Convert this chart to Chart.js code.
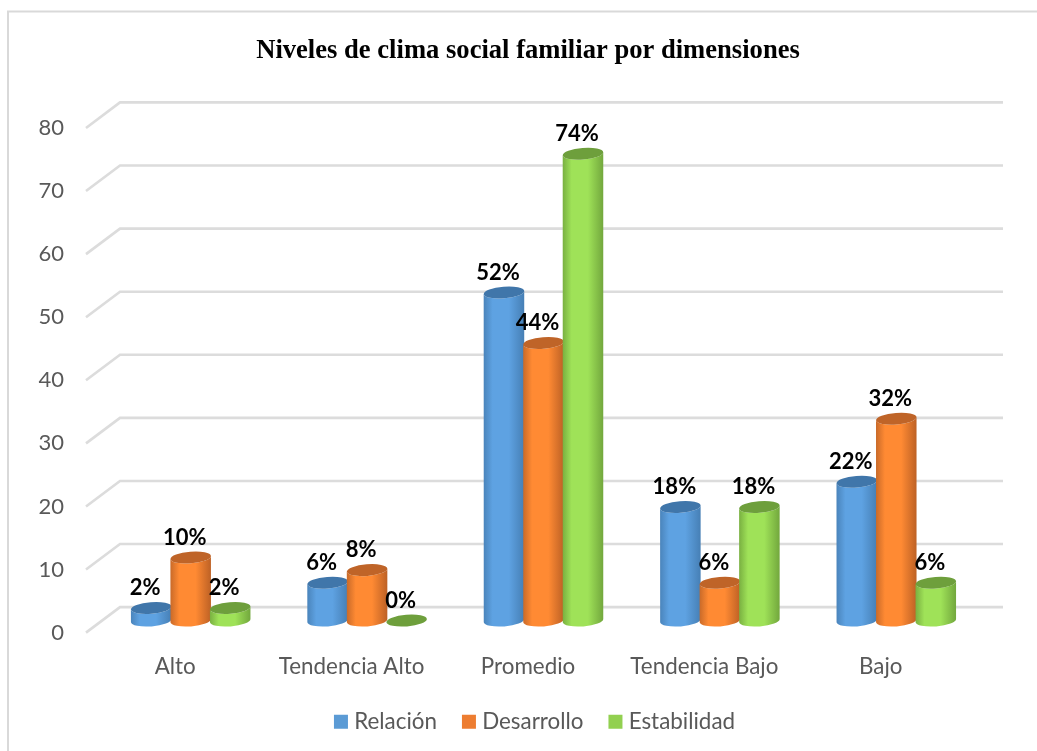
<!DOCTYPE html>
<html>
<head>
<meta charset="utf-8">
<style>html,body{margin:0;padding:0;background:#fff;overflow:hidden}#w{position:relative;width:1037px;height:751px}</style>
<script src="https://cdn.jsdelivr.net/npm/chart.js@4"></script>
</head>
<body>
<div id="w"><canvas id="c" width="1037" height="751"></canvas></div>
<script>
const categories = ['Alto','Tendencia Alto','Promedio','Tendencia Bajo','Bajo'];
const relacion = [2,6,52,18,22];
const desarrollo = [10,8,44,6,32];
const estabilidad = [2,0,74,18,6];
const yTicks = [0,10,20,30,40,50,60,70,80];
const colors = {
  Relación:{legend:'#5b9bd5',edgeL:'#4a84bb',mid:'#5ea2e2',edgeR:'#467fb5',top:'#4076aa'},
  Desarrollo:{legend:'#ed7d31',edgeL:'#c96a29',mid:'#ff8a33',edgeR:'#bd6125',top:'#bf6428'},
  Estabilidad:{legend:'#92d050',edgeL:'#79b041',mid:'#9fe258',edgeR:'#72a73d',top:'#6e9f3c'}
};
const FONT='Lato, Carlito, sans-serif';
const DX=15.5, DY=12, RY=5.8, TILT=-0.08;

const cyl={
  id:'cyl',
  beforeDraw(ch){
    const c=ch.ctx;c.save();c.fillStyle='#fff';c.fillRect(0,0,ch.width,ch.height);
    c.strokeStyle='#d9d9d9';c.lineWidth=2;c.beginPath();
    c.moveTo(8,751);c.lineTo(8,11.5);c.lineTo(1037,11.5);c.stroke();c.restore();
  },
  afterLayout(ch){ch.legend.left+=9;ch.legend.right+=9;},
  beforeDatasetsDraw(ch){
    const c=ch.ctx,y=ch.scales.y;
    c.save();c.strokeStyle='#dcdcdc';c.lineWidth=2.6;c.lineJoin='miter';
    yTicks.forEach(v=>{
      const p=y.getPixelForValue(v);
      c.beginPath();c.moveTo(86,p);c.lineTo(120,p-25.5);c.lineTo(1003,p-25.5);c.stroke();
    });
    c.restore();
  },
  beforeDatasetDraw(){return false;},
  afterDatasetsDraw(ch){
    const c=ch.ctx;c.save();
    ch.data.datasets.forEach((ds,i)=>{
      const m=ch.getDatasetMeta(i),col=colors[ds.label];
      m.data.forEach(el=>{
        const cx=el.x+DX,rx=20.3,top=el.y-DY,base=el.base-DY;
        if(base-top>0.5){
          const g=c.createLinearGradient(cx-rx,0,cx+rx,0);
          g.addColorStop(0,col.edgeL);g.addColorStop(0.22,col.mid);g.addColorStop(0.62,col.mid);g.addColorStop(1,col.edgeR);
          c.fillStyle=g;c.beginPath();
          c.ellipse(cx,base,rx,RY,TILT,0,Math.PI,false);
          c.lineTo(cx-rx,top);
          c.ellipse(cx,top,rx,RY,TILT,Math.PI,0,true);
          c.closePath();c.fill();
        }
        c.fillStyle=col.top;c.beginPath();c.ellipse(cx,top,rx,RY,TILT,0,Math.PI*2);c.fill();
      });
    });
    c.fillStyle='#000';c.font='bold 22px '+FONT;c.textAlign='center';c.textBaseline='middle';
    ch.data.datasets.forEach((ds,i)=>{
      ch.getDatasetMeta(i).data.forEach((el,j)=>{
        c.fillText(ds.data[j]+'%',el.x+DX-6,el.y-DY-20);
      });
    });
    c.restore();
  }
};

function ds(label,data){
  const col=colors[label].legend;
  return {label,data,backgroundColor:col,borderColor:col,borderWidth:10};
}

new Chart(document.getElementById('c'),{
  type:'bar',
  data:{labels:categories,datasets:[ds('Relación',relacion),ds('Desarrollo',desarrollo),ds('Estabilidad',estabilidad)]},
  options:{
    responsive:false,animation:false,
    categoryPercentage:0.672,barPercentage:1,
    layout:{padding:{left:0,right:68,top:35,bottom:8}},
    plugins:{
      title:{display:true,text:'Niveles de clima social familiar por dimensiones',fullSize:false,
        color:'#000',font:{family:'"Liberation Serif"',size:26.6,weight:'bold'},padding:{top:0,bottom:61}},
      legend:{position:'bottom',fullSize:false,
        labels:{boxWidth:4,boxHeight:4,padding:30,color:'#595959',font:{family:FONT,size:22.4}}},
      tooltip:{enabled:false}
    },
    scales:{
      x:{grid:{display:false},border:{display:false},
        ticks:{color:'#595959',font:{family:FONT,size:22.4},padding:13,maxRotation:0,autoSkip:false},
        afterFit(s){s.height=48;}},
      y:{min:0,max:80,grid:{display:false},border:{display:false},
        afterBuildTicks(s){s.ticks=yTicks.map(v=>({value:v}));},
        ticks:{color:'#595959',font:{family:FONT,size:22},padding:15},
        afterFit(s){s.width=87;}}
    }
  },
  plugins:[cyl]
});
</script>
</body>
</html>
